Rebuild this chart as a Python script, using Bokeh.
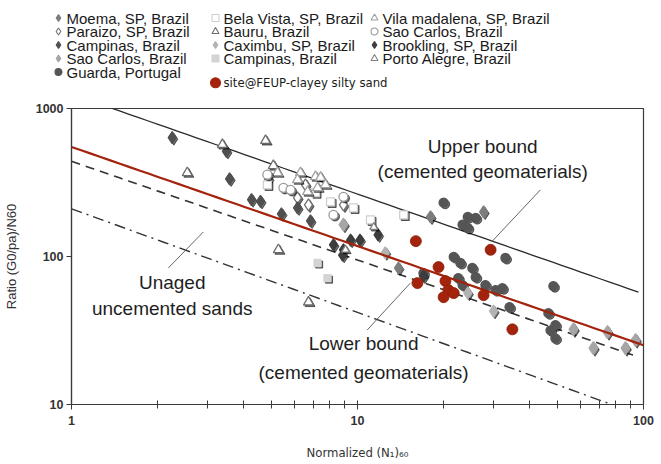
import numpy as np
from bokeh.plotting import figure
from bokeh.layouts import column
from bokeh.models import Range1d, FixedTicker, PrintfTickFormatter
from bokeh.core.properties import value
from bokeh.embed import file_html
from bokeh.resources import INLINE

# ---------------- site data: (N1)60 and (G0/pa)/N60 ----------------
moema_n = [13.9, 18.0, 27.6]
moema_r = [83.6, 185, 200]
paraizo_n = [4.88, 6.58, 6.17, 6.74, 8.93]
paraizo_r = [335, 305, 249, 223, 223]
campinas_d_n = [2.25, 3.48, 3.57, 4.26, 4.58, 5.42, 6.85, 6.17]
campinas_d_r = [636, 514, 335, 242, 236, 194, 174, 213]
saocarlos_d_n = [8.93, 56.9, 66.8, 74.8, 86.5, 93.8]
saocarlos_d_r = [164, 32.2, 24.0, 30.8, 24.0, 27.2]
guarda_n = [20.0, 24.3, 25.9, 23.3, 24.3, 32.9, 48.4, 21.7, 22.9, 25.2, 25.9,
            22.5, 23.3, 28.0, 30.4, 32.1, 34.0, 46.5, 49.2, 47.3, 49.2, 17.0]
guarda_r = [231, 185, 182, 164, 156, 97.7, 63.1, 99.3, 90.4, 83.6, 72.6,
            71.5, 64.1, 64.1, 59.3, 61.1, 45.5, 41.4, 34.4, 31.7, 28.0, 77.3]
belavista_n = [4.84, 8.05, 7.13, 9.68, 11.1, 14.5]
belavista_r = [305, 234, 270, 213, 177, 191]
bauru_n = [2.54, 3.37, 4.77, 5.29, 6.74, 5.08]
bauru_r = [368, 570, 607, 111, 49.2, 411]
caximbu_n = [12.5, 24.3, 29.9]
caximbu_r = [106, 56.6, 42.7]
campinas_s_n = [7.25, 7.85]
campinas_s_r = [90.4, 71.5]
vila_n = [5.25, 6.32, 6.17, 7.13, 7.43, 7.73, 7.25, 6.69]
vila_r = [368, 368, 330, 346, 342, 305, 291, 274]
saocarlos_c_n = [4.84, 5.51, 5.83, 8.93, 8.24]
saocarlos_c_r = [357, 291, 282, 253, 191]
brookling_n = [8.24, 8.93, 9.46, 10.2, 8.87, 11.8, 17.0]
brookling_r = [120, 111, 129, 129, 102, 140, 73.8]
porto_n = [11.4, 9.08]
porto_r = [158, 111]
feup_n = [16.0, 29.2, 19.2, 16.2, 20.3, 20.8, 20.0, 21.7, 27.6, 34.8]
feup_r = [127, 111, 84.9, 66.1, 68.2, 59.3, 53.1, 56.6, 54.8, 32.2]

# ---------------- bound lines: ratio = a * N**b ----------------
upper_ab = (1250, -0.675)
upper_span = (1.0, 96)
lower_ab = (550, -0.67)
lower_span = (1.0, 100)
dashed_ab = (440, -0.667)
dashed_span = (1.0, 96)
unaged_ab = (210, -0.70)
unaged_span = (1.0, 80)

# callout texts and their pointer lines
notes_text = ["Upper bound", "(cemented geomaterials)", "Lower bound",
              "(cemented geomaterials)", "Unaged", "uncemented sands"]
notes_n = [27.4, 27.4, 10.5, 10.5, 2.25, 2.25]
notes_r = [552, 374, 25.9, 16.5, 67.1, 44.8]
pointer_n = [[29.6, 43.6], [15.3, 10.8], [2.89, 2.18]]
pointer_r = [[127, 282], [66.1, 31.8], [146.5, 83.6]]

# series: label, n, r, marker, fill, line, size, key slot (column, row)
series = [
    ("Moema, SP, Brazil", moema_n, moema_r, "diamond", "#7d7d7d", "#7d7d7d", 12, (0, 0)),
    ("Paraizo, SP, Brazil", paraizo_n, paraizo_r, "diamond", "white", "#707070", 12, (0, 1)),
    ("Campinas, Brazil", campinas_d_n, campinas_d_r, "diamond", "#505050", "#505050", 12, (0, 2)),
    ("Sao Carlos, Brazil", saocarlos_d_n, saocarlos_d_r, "diamond", "#a6a6a6", "#a6a6a6", 13, (0, 3)),
    ("Guarda, Portugal", guarda_n, guarda_r, "circle", "#555555", "#555555", 9, (0, 4)),
    ("Bela Vista, SP, Brazil", belavista_n, belavista_r, "square", "white", "#d0d0d0", 8, (1, 0)),
    ("Bauru, Brazil", bauru_n, bauru_r, "triangle", "white", "#6a6a6a", 10, (1, 1)),
    ("Caximbu, SP, Brazil", caximbu_n, caximbu_r, "diamond", "#b3b3b3", "#b3b3b3", 12, (1, 2)),
    ("Campinas, Brazil", campinas_s_n, campinas_s_r, "square", "#d4d4d4", "#d4d4d4", 7, (1, 3)),
    ("Vila madalena, SP, Brazil", vila_n, vila_r, "triangle", "white", "#a0a0a0", 10, (2, 0)),
    ("Sao Carlos, Brazil", saocarlos_c_n, saocarlos_c_r, "circle", "white", "#9a9a9a", 9, (2, 1)),
    ("Brookling, SP, Brazil", brookling_n, brookling_r, "diamond", "#3d3d3d", "#3d3d3d", 12, (2, 2)),
    ("Porto Alegre, Brazil", porto_n, porto_r, "triangle", "white", "#808080", 8, (2, 3)),
    ("site@FEUP-clayey silty sand", feup_n, feup_r, "circle", "#a3230c", "#a3230c", 11, (1, 4.8)),
]

FONT = "'Liberation Sans', Arial, sans-serif"
COND = "'DejaVu Sans Condensed', 'DejaVu Sans', sans-serif"

# ---------------- main log-log chart ----------------
p = figure(width=661, height=369, x_axis_type="log", y_axis_type="log",
           x_range=Range1d(1, 100), y_range=Range1d(10, 1000),
           output_backend="svg", toolbar_location=None,
           min_border_left=71, min_border_right=18,
           min_border_top=13, min_border_bottom=60)
p.xgrid.visible = False
p.ygrid.visible = False
p.outline_line_color = "#3a3a3a"
p.outline_line_width = 1.2
p.background_fill_color = "white"
p.border_fill_color = "white"

xa = p.xaxis[0]
xa.ticker = FixedTicker(ticks=[1, 10, 100],
                        minor_ticks=[2, 3, 4, 5, 6, 7, 8, 9,
                                     20, 30, 40, 50, 60, 70, 80, 90])
xa.formatter = PrintfTickFormatter(format="%d")
xa.major_tick_in = 4
xa.major_tick_out = 5
xa.minor_tick_in = 4
xa.minor_tick_out = 4
xa.axis_line_color = "#3a3a3a"
xa.axis_line_width = 1.2
xa.major_tick_line_color = "#3a3a3a"
xa.minor_tick_line_color = "#3a3a3a"
xa.major_label_text_font = FONT
xa.major_label_text_font_style = "bold"
xa.major_label_text_font_size = "12.5px"
xa.major_label_text_color = "#333333"
xa.major_label_standoff = 6
xa.axis_label = "Normalized (N\u2081)\u2086\u2080"
xa.axis_label_text_font = COND
xa.axis_label_text_font_style = "normal"
xa.axis_label_text_font_size = "13px"
xa.axis_label_text_color = "#333333"
xa.axis_label_standoff = 17

ya = p.yaxis[0]
ya.ticker = FixedTicker(ticks=[10, 100, 1000], minor_ticks=[])
ya.formatter = PrintfTickFormatter(format="%d")
ya.major_tick_in = 0
ya.major_tick_out = 5
ya.minor_tick_in = 0
ya.minor_tick_out = 0
ya.axis_line_color = "#3a3a3a"
ya.axis_line_width = 1.2
ya.major_tick_line_color = "#3a3a3a"
ya.major_label_text_font = FONT
ya.major_label_text_font_style = "bold"
ya.major_label_text_font_size = "12.5px"
ya.major_label_text_color = "#333333"
ya.major_label_standoff = 3
ya.axis_label = "Ratio (G0/pa)/N60"
ya.axis_label_text_font = FONT
ya.axis_label_text_font_style = "normal"
ya.axis_label_text_font_size = "13px"
ya.axis_label_text_color = "#333333"
ya.axis_label_standoff = 14


def bound(ab, span):
    n = np.geomspace(span[0], span[1], 60)
    return n, ab[0] * n ** ab[1]


n, r = bound(unaged_ab, unaged_span)
p.line(n, r, line_color="#333333", line_width=1.4, line_dash="11 5 2 5")
n, r = bound(dashed_ab, dashed_span)
p.line(n, r, line_color="#333333", line_width=1.6, line_dash="9 6")
n, r = bound(upper_ab, upper_span)
p.line(n, r, line_color="#2a2a2a", line_width=1.3)

# pointer lines of the callouts
p.multi_line(pointer_n, pointer_r, line_color="#555555", line_width=0.9)

# drop shadow offset (screen pixels converted to log-axis factors)
sx = 10 ** (1.6 / 286.0)
sy = 10 ** (-1.6 / 148.0)

for label, xs, ys, mk, fill, line, size, slot in series:
    if label.startswith("site"):
        continue
    xs = np.asarray(xs, float)
    ys = np.asarray(ys, float)
    p.scatter(xs * sx, ys * sy, marker=mk, size=size, fill_color="black",
              line_color="black", fill_alpha=0.55, line_alpha=0.55)
    p.scatter(xs, ys, marker=mk, size=size, fill_color=fill,
              line_color=line, line_width=1.3)

n, r = bound(lower_ab, lower_span)
p.line(n, r, line_color="#a3230c", line_width=2.2)

p.scatter(feup_n, feup_r, marker="circle", size=11, fill_color="#a3230c",
          line_color="#8e1e08", line_width=0.8)

p.text(notes_n, notes_r, text=notes_text, text_font=value("Liberation Sans"),
       text_font_size="19px", text_align="center", text_baseline="middle",
       text_color="#1e1e1e")

# ---------------- key above the chart (page-pixel coordinates) ----------------
key = figure(width=661, height=95, x_range=Range1d(0, 661), y_range=Range1d(95, 0),
             x_axis_type=None, y_axis_type=None, output_backend="svg",
             toolbar_location=None, min_border=0, outline_line_color=None)
key.xgrid.visible = False
key.ygrid.visible = False
key.background_fill_color = "white"
key.border_fill_color = "white"

# keep each frame at its own size instead of lining the frames up
for fig in (key, p):
    try:
        fig.frame_align = False
    except AttributeError:
        pass

key_cols = [58, 215, 374]
key_row0 = 17.5
key_step = 13.5

for label, xs, ys, mk, fill, line, size, (c, rr) in series:
    kx = key_cols[c]
    ky = key_row0 + rr * key_step
    is_site = label.startswith("site")
    key.scatter([kx], [ky], marker=mk, size=10 if is_site else 7,
                fill_color=fill, line_color=line, line_width=1.1)
    key.text([kx + 8], [ky], text=[label],
             text_font=value(COND if is_site else FONT),
             text_font_size="13px" if is_site else "15px",
             text_baseline="middle", text_align="left", text_color="#1a1a1a")

layout = column(key, p, spacing=0)
open("out.html", "w").write(file_html(layout, INLINE))
